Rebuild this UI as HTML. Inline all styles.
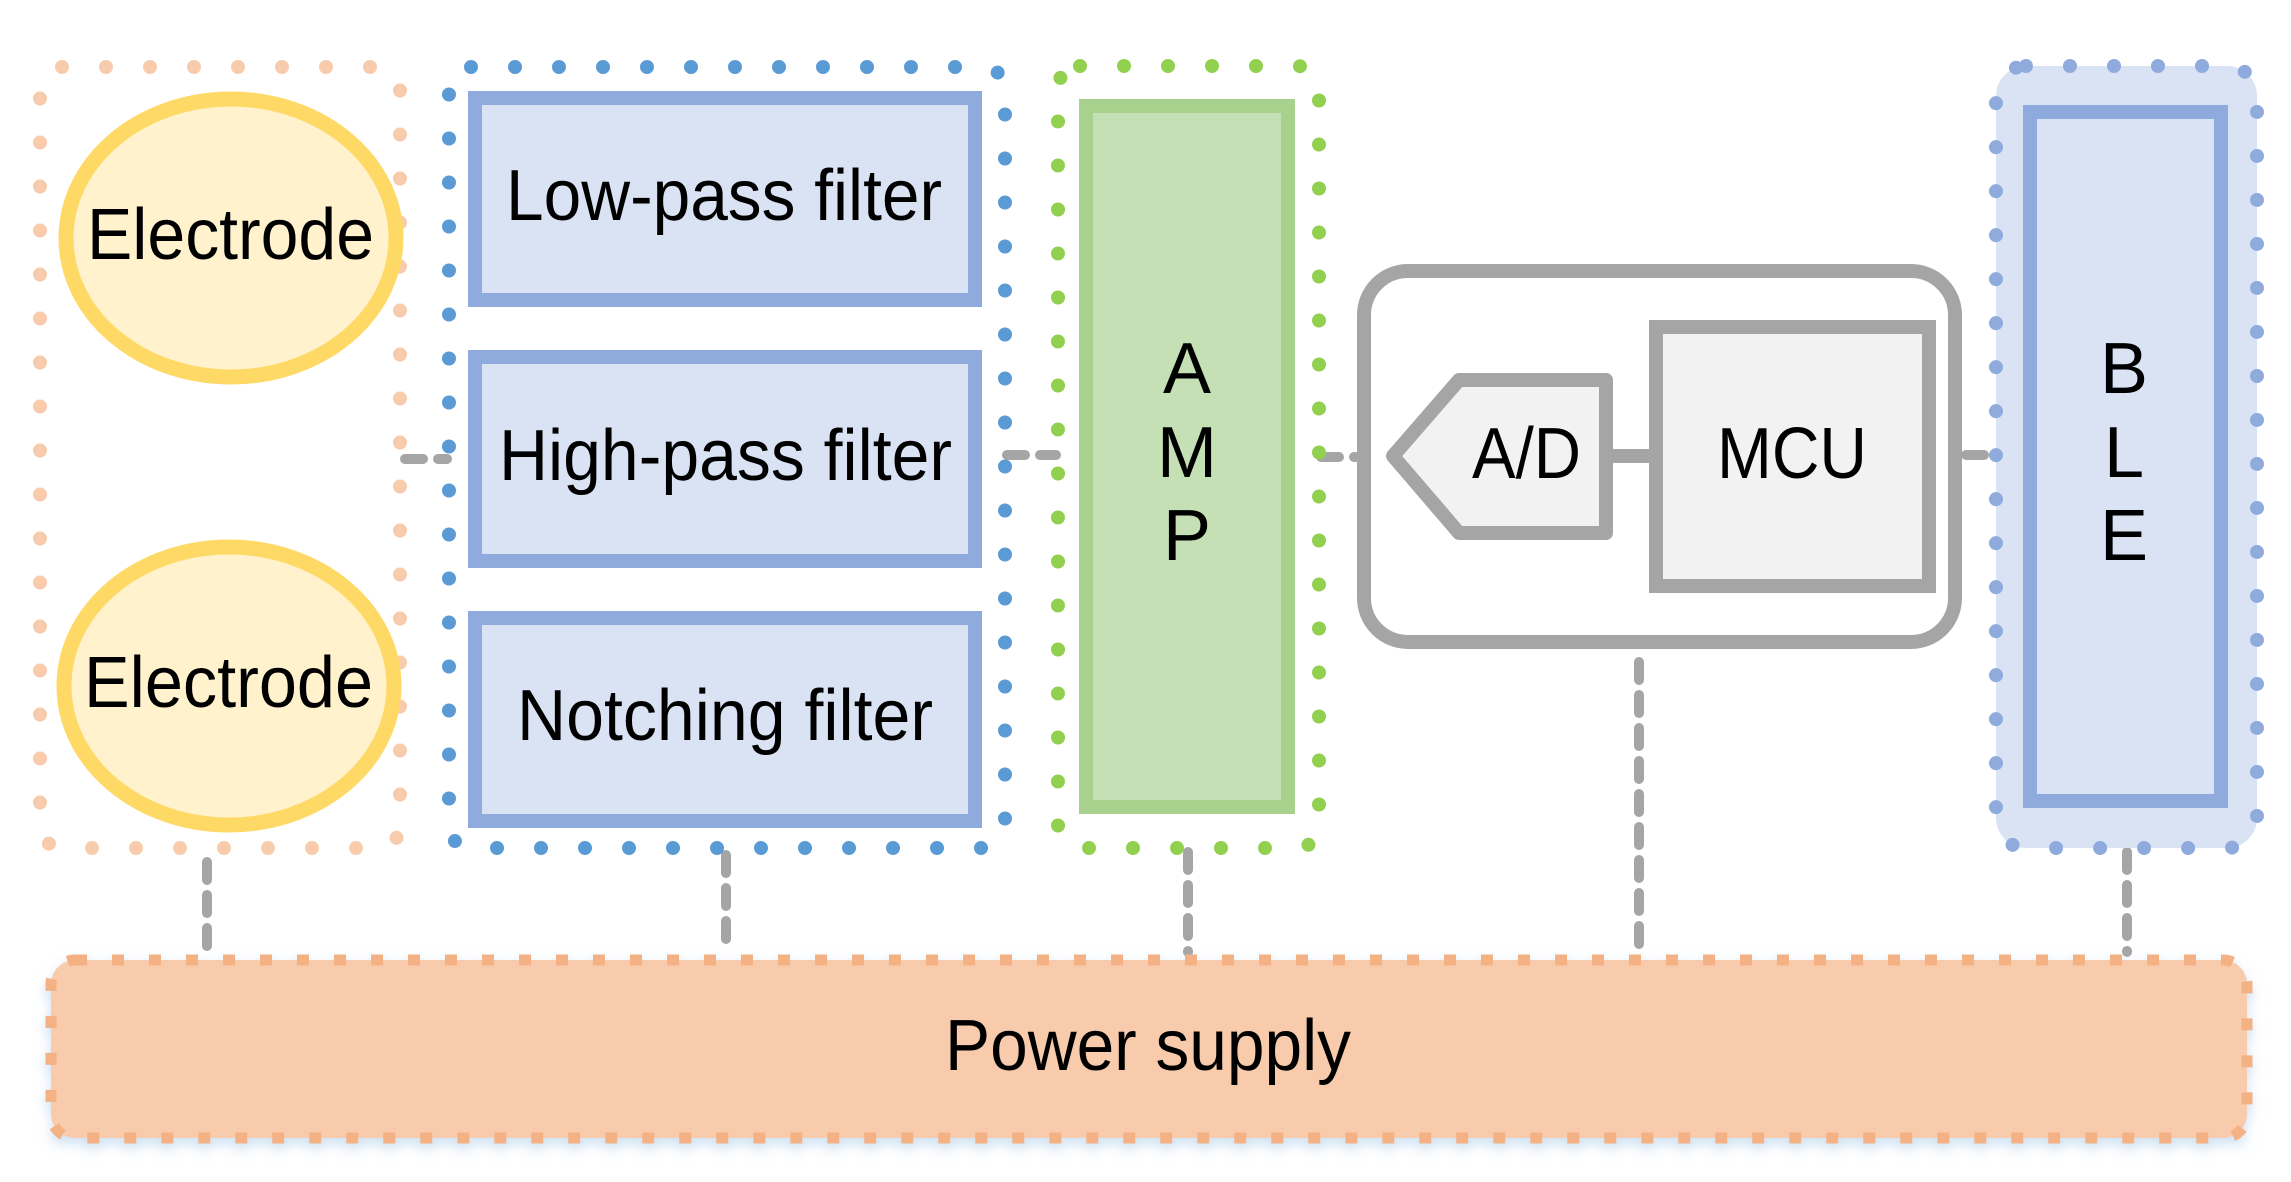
<!DOCTYPE html>
<html><head><meta charset="utf-8"><style>html,body{margin:0;padding:0;background:#fff}svg{display:block}</style></head>
<body>
<svg width="2291" height="1182" viewBox="0 0 2291 1182" xmlns="http://www.w3.org/2000/svg" font-family="Liberation Sans, sans-serif">
<defs><filter id="sh" x="-5%" y="-20%" width="110%" height="150%"><feDropShadow dx="0" dy="6" stdDeviation="6" flood-color="#9dc3e6" flood-opacity="0.5"/></filter></defs>
<g stroke="#A5A5A5" stroke-width="10" stroke-linecap="round" stroke-dasharray="18 15" fill="none">
<line x1="405" y1="459" x2="447" y2="459"/>
<line x1="1007" y1="455" x2="1056" y2="455"/>
<line x1="1321" y1="457" x2="1356" y2="457"/>
<line x1="1966" y1="455" x2="1994" y2="455"/>
<line x1="207" y1="862" x2="207" y2="952"/>
<line x1="726" y1="855" x2="726" y2="952"/>
<line x1="1188" y1="852" x2="1188" y2="952"/>
<line x1="1639" y1="662" x2="1639" y2="952"/>
<line x1="2127" y1="852" x2="2127" y2="952"/>
</g>
<rect x="40" y="67" width="360" height="781" rx="22" fill="none" stroke="#F8CBAD" stroke-width="14" stroke-linecap="round" stroke-dasharray="0 44"/>
<rect x="449" y="67" width="556" height="781" rx="22" fill="none" stroke="#5B9BD5" stroke-width="14" stroke-linecap="round" stroke-dasharray="0 44"/>
<rect x="1058" y="66" width="261" height="782" rx="22" fill="none" stroke="#92D050" stroke-width="14" stroke-linecap="round" stroke-dasharray="0 44"/>
<rect x="1996" y="66" width="261" height="782" rx="30" fill="#DAE3F3" stroke="#8FAADC" stroke-width="14" stroke-linecap="round" stroke-dasharray="0 44"/>
<ellipse cx="231" cy="238" rx="165" ry="139" fill="#FFF2CC" stroke="#FFD966" stroke-width="15"/>
<ellipse cx="229" cy="686" rx="165" ry="139" fill="#FFF2CC" stroke="#FFD966" stroke-width="15"/>
<g fill="#DAE3F3" stroke="#8FAADC" stroke-width="14">
<rect x="475" y="98" width="500" height="202"/>
<rect x="475" y="357" width="500" height="204"/>
<rect x="475" y="618" width="500" height="203"/>
</g>
<rect x="1086" y="106" width="202" height="701" fill="#C5E0B4" stroke="#A9D18E" stroke-width="14"/>
<rect x="1364" y="271" width="591" height="371" rx="44" fill="#fff" stroke="#A5A5A5" stroke-width="14"/>
<line x1="1612" y1="456" x2="1652" y2="456" stroke="#A5A5A5" stroke-width="14"/>
<polygon points="1393,456 1459,380 1606,380 1606,533 1459,533" fill="#F2F2F2" stroke="#A5A5A5" stroke-width="14" stroke-linejoin="round"/>
<rect x="1656" y="327" width="273" height="259" fill="#F2F2F2" stroke="#A5A5A5" stroke-width="14"/>
<rect x="2030" y="112" width="191" height="689" fill="#DAE3F3" stroke="#8FAADC" stroke-width="14"/>
<rect x="51" y="960" width="2196" height="178" rx="24" fill="#F8CBAD" stroke="#F4B183" stroke-width="11" stroke-dasharray="12 25" filter="url(#sh)"/>
<g fill="#000" font-size="72">
<text x="87" y="259" textLength="287" lengthAdjust="spacingAndGlyphs">Electrode</text>
<text x="84" y="707" textLength="289" lengthAdjust="spacingAndGlyphs">Electrode</text>
<text x="506" y="220" textLength="436" lengthAdjust="spacingAndGlyphs">Low-pass filter</text>
<text x="499" y="480" textLength="453" lengthAdjust="spacingAndGlyphs">High-pass filter</text>
<text x="517" y="740" textLength="416" lengthAdjust="spacingAndGlyphs">Notching filter</text>
<g text-anchor="middle" font-size="72">
<text x="1187" y="393">A</text><text x="1187" y="477">M</text><text x="1187" y="560">P</text>
<text x="2124" y="393">B</text><text x="2124" y="477">L</text><text x="2124" y="560">E</text>
</g>
<text x="1472" y="478" textLength="109" lengthAdjust="spacingAndGlyphs">A/D</text>
<text x="1717" y="478" textLength="150" lengthAdjust="spacingAndGlyphs">MCU</text>
<text x="945" y="1070" textLength="406" lengthAdjust="spacingAndGlyphs">Power supply</text>
</g>
</svg>
</body></html>
